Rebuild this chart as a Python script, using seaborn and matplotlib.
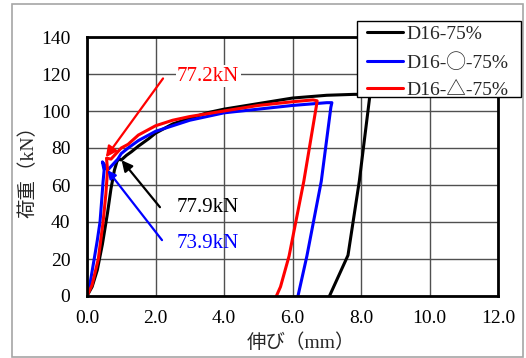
import numpy as np
import pandas as pd
import seaborn as sns
import matplotlib
matplotlib.use("Agg")
import matplotlib.pyplot as plt
from matplotlib.patches import Rectangle
from matplotlib.lines import Line2D

# ---- data ----
series_names = ["D16-75%", "D16-◯-75%", "D16-△-75%"]
series_colors = ["#000000", "#0000ff", "#ff0000"]

black_x = [0, 0.15, 0.3, 0.45, 0.6, 0.7, 0.8, 0.88, 0.95, 1.0, 1.15, 1.3, 1.5, 1.8, 2.0,
           2.5, 3.0, 3.5, 4.0, 5.0, 6.0, 7.0, 7.8, 8.2, 8.25, 7.95, 7.62, 7.08]
black_y = [0, 5, 14, 28, 45, 58, 68, 73, 74, 73.5, 76, 78, 81, 85, 88,
           93, 96, 99, 101, 104, 107, 108.5, 109, 109, 107, 62, 22, 0]

blue_x = [0, 0.1, 0.21, 0.3, 0.38, 0.43, 0.47, 0.5, 0.45, 0.55, 0.6, 0.7, 0.8, 0.9, 1.0,
          1.2, 1.5, 2.0, 2.5, 3.0, 4.0, 5.0, 6.0, 7.0, 7.15, 7.12, 6.84, 6.42, 6.16]
blue_y = [0, 8, 20, 30, 40, 52, 62, 68, 72.5, 70, 68, 70, 72, 74, 77,
          80, 84, 89, 92, 95, 99, 101, 103, 104.5, 104.5, 102, 62, 21.6, 0]

red_x = [0, 0.15, 0.33, 0.47, 0.55, 0.6, 0.57, 0.7, 0.8, 0.9, 1.0, 1.2, 1.5, 1.8, 2.0,
         2.5, 3.0, 4.0, 5.0, 6.0, 6.6, 6.72, 6.7, 6.33, 5.9, 5.65, 5.53]
red_y = [0, 6, 20, 40, 55, 68, 74.5, 74, 76, 78, 80, 82, 87, 90, 92,
         95, 97, 100, 103, 105, 106, 105.5, 103, 62, 21.6, 5, 0]

x_ticks = [0, 2, 4, 6, 8, 10, 12]
x_tick_labels = ["0.0", "2.0", "4.0", "6.0", "8.0", "10.0", "12.0"]
y_ticks = [0, 20, 40, 60, 80, 100, 120, 140]

ann_labels = ["77.2kN", "77.9kN", "73.9kN"]

df = pd.concat([
    pd.DataFrame({"x": black_x, "y": black_y, "series": series_names[0]}),
    pd.DataFrame({"x": blue_x, "y": blue_y, "series": series_names[1]}),
    pd.DataFrame({"x": red_x, "y": red_y, "series": series_names[2]}),
], ignore_index=True)

sns.set_style("white")
plt.rcParams["font.family"] = ["Liberation Serif", "Noto Sans CJK JP", "DejaVu Sans"]

W, H = 526, 358
fig = plt.figure(figsize=(W / 100, H / 100), dpi=100)
ax = fig.add_axes([87 / W, 1 - 296 / H, (498 - 87) / W, (296 - 37) / H])

sns.lineplot(data=df, x="x", y="y", hue="series", hue_order=series_names,
             palette=dict(zip(series_names, series_colors)), sort=False,
             estimator=None, lw=2.2, ax=ax, legend=False, zorder=3)

ax.set_xlim(0, 12)
ax.set_ylim(0, 140)
ax.set_xticks(x_ticks)
ax.set_xticklabels(x_tick_labels)
ax.set_yticks(y_ticks)
ax.tick_params(axis="both", length=0, labelsize=14, colors="black")
ax.tick_params(axis="y", pad=12)
ax.tick_params(axis="x", pad=10)
ax.grid(True, color="#505050", lw=1.0)
ax.set_axisbelow(True)
for s in ax.spines.values():
    s.set_color("black")
    s.set_linewidth(2)
    s.set_zorder(5)

ax.set_xlabel("伸び（mm）", fontsize=14, labelpad=0)
ax.set_ylabel("荷重（kN）", fontsize=14, labelpad=2)
ax.xaxis.set_label_coords(0.52, -0.145)

# annotations
tx = 2.63
arrow_kw = dict(arrowstyle="-|>", lw=1.6, mutation_scale=16, shrinkA=0, shrinkB=0)
ax.annotate("", xy=(0.55, 75), xytext=(2.22, 117.6),
            arrowprops=dict(color="#ff0000", **arrow_kw), zorder=6)
ax.text(tx, 118.7, ann_labels[0], color="#ff0000", fontsize=15, va="center", ha="left",
        bbox=dict(facecolor="white", edgecolor="none", pad=1), zorder=6)
ax.annotate("", xy=(1.01, 73.4), xytext=(2.13, 48),
            arrowprops=dict(color="black", **arrow_kw), zorder=6)
ax.text(tx, 48, ann_labels[1], color="black", fontsize=15, va="center", ha="left", zorder=6)
ax.annotate("", xy=(0.6, 68), xytext=(2.19, 30.2),
            arrowprops=dict(color="#0000ff", arrowstyle="-|>", lw=1.6, mutation_scale=12,
                            shrinkA=0, shrinkB=0), zorder=6)
ax.text(tx, 28.6, ann_labels[2], color="#0000ff", fontsize=15, va="center", ha="left", zorder=6)

# legend frame (drawn manually) + frameless legend
fig.add_artist(Rectangle((357 / W, 1 - 97 / H), (521 - 357) / W, (97 - 21) / H,
                         transform=fig.transFigure, facecolor="white",
                         edgecolor="black", lw=1.0, zorder=10))
handles = [Line2D([], [], color=c, lw=2.2) for c in series_colors]
leg = fig.legend(handles, series_names, loc="upper left",
                 bbox_to_anchor=(367 / W, 1 - 25.5 / H), bbox_transform=fig.transFigure,
                 fontsize=14, frameon=False, borderpad=0, labelspacing=0.5,
                 handlelength=1.85, handletextpad=0.2, borderaxespad=0)
leg.set_zorder(11)

# outer border
fig.add_artist(Rectangle((12 / W, 1 / H), (523 - 12) / W, (354 - 1) / H,
                         transform=fig.transFigure, fill=False,
                         edgecolor="#a6a6a6", lw=1.2))

fig.savefig("out.png", dpi=100)
